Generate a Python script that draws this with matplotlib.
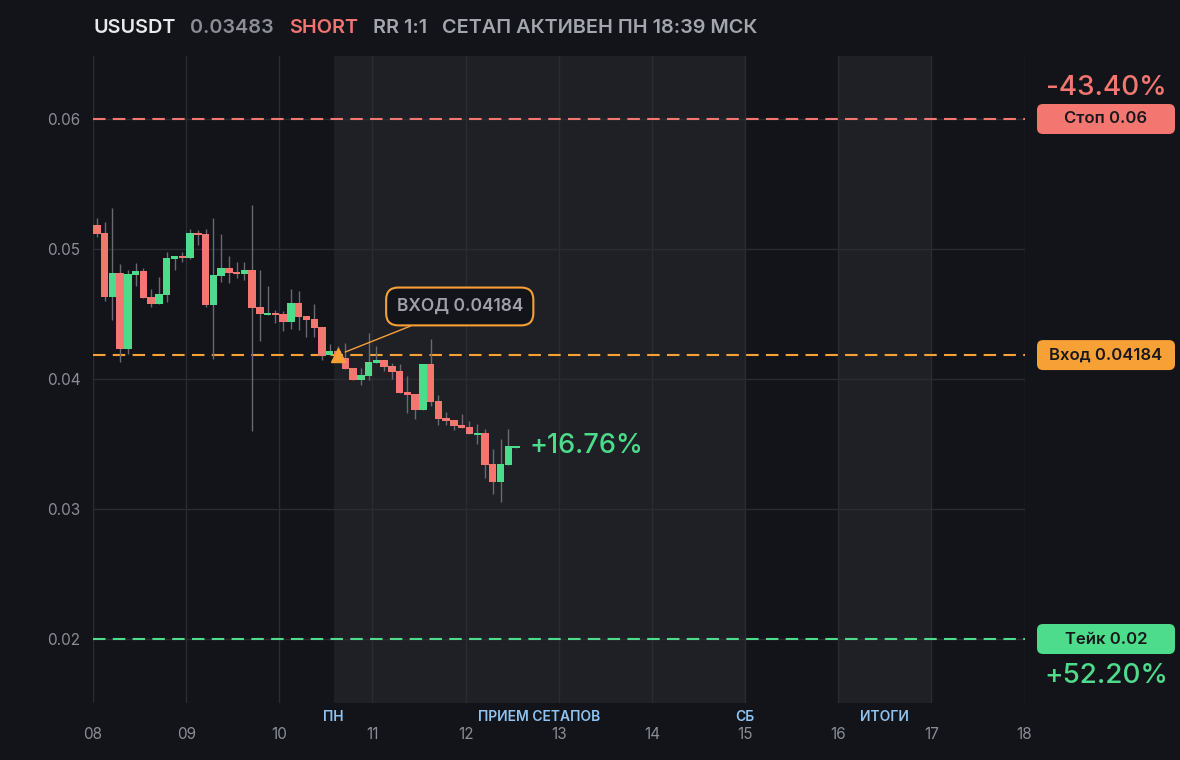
import matplotlib
matplotlib.use('Agg')
import matplotlib.pyplot as plt
import matplotlib.transforms as mtransforms
from matplotlib.patches import FancyBboxPatch
import numpy as np

plt.rcParams['font.family'] = ['Inter', 'DejaVu Sans']

# 2h candles, day 08 .. day 12
opens = [0.05185, 0.05123, 0.04631, 0.04815, 0.04231, 0.04800, 0.04831, 0.04631, 0.04577, 0.04646,
         0.04923, 0.04946, 0.04931, 0.05123, 0.05115, 0.04569, 0.04792, 0.04854, 0.04823, 0.04808,
         0.04838, 0.04554, 0.04492, 0.04508, 0.04500, 0.04438, 0.04585, 0.04485, 0.04462, 0.04400,
         0.04185, 0.04215, 0.04162, 0.04085, 0.03992, 0.04023, 0.04123, 0.04146, 0.04100, 0.04062,
         0.03900, 0.03885, 0.03762, 0.04115, 0.03831, 0.03700, 0.03685, 0.03646, 0.03631, 0.03569,
         0.03585, 0.03346, 0.03208, 0.03338, 0.03469]
highs = [0.05238, 0.05208, 0.05315, 0.04885, 0.04838, 0.04892, 0.04854, 0.04692, 0.04785, 0.04977,
         0.04946, 0.04977, 0.05154, 0.05146, 0.05154, 0.05238, 0.05115, 0.04946, 0.04900, 0.04900,
         0.05338, 0.04838, 0.04715, 0.04531, 0.04523, 0.04692, 0.04677, 0.04485, 0.04577, 0.04400,
         0.04269, 0.04250, 0.04277, 0.04085, 0.04085, 0.04354, 0.04254, 0.04146, 0.04120, 0.04115,
         0.04023, 0.03885, 0.04115, 0.04308, 0.03877, 0.03746, 0.03685, 0.03731, 0.03677, 0.03654,
         0.03615, 0.03462, 0.03538, 0.03615, 0.03485]
lows = [0.05095, 0.04600, 0.04454, 0.04131, 0.04192, 0.04715, 0.04623, 0.04554, 0.04577, 0.04592,
        0.04838, 0.04900, 0.04923, 0.05031, 0.04554, 0.04154, 0.04746, 0.04738, 0.04777, 0.04762,
        0.03600, 0.04292, 0.04492, 0.04431, 0.04369, 0.04385, 0.04377, 0.04323, 0.04323, 0.04146,
        0.04185, 0.04150, 0.04077, 0.03992, 0.03954, 0.03992, 0.04123, 0.04062, 0.04000, 0.03892,
        0.03738, 0.03692, 0.03762, 0.03792, 0.03646, 0.03646, 0.03608, 0.03623, 0.03577, 0.03500,
        0.03238, 0.03115, 0.03054, 0.03338, 0.03469]
closes = [0.05118, 0.04631, 0.04815, 0.04231, 0.04808, 0.04831, 0.04623, 0.04577, 0.04654, 0.04931,
          0.04946, 0.04931, 0.05123, 0.05108, 0.04569, 0.04800, 0.04854, 0.04815, 0.04808, 0.04838,
          0.04546, 0.04500, 0.04508, 0.04492, 0.04438, 0.04585, 0.04477, 0.04454, 0.04392, 0.04177,
          0.04215, 0.04184, 0.04077, 0.03992, 0.04031, 0.04131, 0.04146, 0.04092, 0.04054, 0.03892,
          0.03877, 0.03762, 0.04115, 0.03823, 0.03692, 0.03677, 0.03638, 0.03623, 0.03577, 0.03585,
          0.03338, 0.03208, 0.03346, 0.03485, 0.03483]

entry_idx = 31
entry = 0.04184
stop = 0.06
take = 0.02

day_ticks = [8, 9, 10, 11, 12, 13, 14, 15, 16, 17, 18]
price_ticks = [0.02, 0.03, 0.04, 0.05, 0.06]
spans = [(8 + 31 / 12, 15), (16, 17)]
span_labels = [(8 + 31 / 12, 'ПН'), ((8 + 31 / 12 + 15) / 2, 'ПРИЕМ СЕТАПОВ'), (15, 'СБ'), (16.5, 'ИТОГИ')]

title_parts = [('USUSDT', '#e9e9ec'), ('0.03483', '#8b8e97'), ('SHORT', '#f07470'),
               ('RR 1:1', '#a3a6ae'), ('СЕТАП АКТИВЕН ПН 18:39 МСК', '#a3a6ae')]
stop_pct = '-43.40%'
take_pct = '+52.20%'
now_pct = '+16.76%'

BG = '#131419'
SHADE = '#1f2025'
GRID = '#2a2c32'
RED = '#f47670'
GREEN = '#4cdc8b'
ORANGE = '#f7a035'
TXT = '#8b8e97'

fig = plt.figure(figsize=(11.8, 7.6), dpi=100, facecolor=BG)
ax = fig.add_axes([93 / 1180, 57 / 760, (1024.5 - 93) / 1180, (703 - 56) / 760])
ax.set_facecolor(BG)
ax.set_xlim(8, 18)
ax.set_ylim(0.015077, 0.064846)
for s in ax.spines.values():
    s.set_visible(False)

for a, b in spans:
    ax.axvspan(a, b, color=SHADE, lw=0, zorder=0)

ax.set_xticks(day_ticks)
ax.set_xticklabels(['%02d' % d for d in day_ticks])
ax.set_yticks(price_ticks)
ax.set_yticklabels(['%.2f' % p for p in price_ticks])
ax.tick_params(axis='x', length=0, pad=17, labelsize=11, labelcolor=TXT)
ax.tick_params(axis='y', length=0, pad=9, labelsize=11, labelcolor=TXT)
ax.grid(True, color=GRID, lw=1, zorder=1)
ax.set_axisbelow(True)

tr = mtransforms.blended_transform_factory(ax.transData, ax.transAxes)
for x, lab in span_labels:
    ax.text(x, -0.0216, lab, transform=tr, ha='center', va='center', fontsize=10,
            weight='semibold', color='#8ec3f2')

# candles
o = np.array(opens); h = np.array(highs); l = np.array(lows); c = np.array(closes)
t = 8 + (np.arange(len(o)) + 0.5) / 12
cols = [GREEN if cc >= oo else RED for oo, cc in zip(o, c)]
body_low = np.minimum(o, c)
body_h = np.maximum(np.abs(c - o), 0.00009)
ax.vlines(t, l, h, color='#676a72', lw=1, zorder=3)
ax.bar(t, body_h, bottom=body_low, width=0.96 / 12, color=cols, zorder=4)

# levels
for val, col in [(stop, RED), (entry, ORANGE), (take, GREEN)]:
    ax.axhline(val, color=col, lw=1.5, dashes=(6, 3.5), zorder=2)

ax.plot(t[entry_idx], entry, marker='^', color=ORANGE, ms=10, zorder=6)
ax.annotate('ВХОД %.5f' % entry, xy=(t[entry_idx], entry), xytext=(88, 35),
            textcoords='offset points', ha='center', va='center', fontsize=12.5,
            weight='semibold', color='#9ea1a9', zorder=7,
            bbox=dict(boxstyle='round,pad=0.6,rounding_size=0.7', fc=BG, ec=ORANGE, lw=1.5),
            arrowprops=dict(arrowstyle='-', color=ORANGE, lw=1, shrinkA=0, shrinkB=6))

ax.annotate(now_pct, xy=(t[-1], c[-1]), xytext=(10, 0), textcoords='offset points',
            ha='left', va='center', fontsize=19.5, weight='medium', color=GREEN)

# right side pills
ident = mtransforms.IdentityTransform()


def pill(val, label, col):
    y = ax.transData.transform((8, val))[1]
    p = FancyBboxPatch((1037, y - 15), 138, 30, boxstyle='round,pad=0,rounding_size=6',
                       fc=col, ec='none', transform=ident)
    fig.add_artist(p)
    fig.text(1106, y, label, transform=ident, ha='center', va='center', fontsize=12,
             weight='semibold', color='#17181c')
    return y


ys = pill(stop, 'Стоп %.2f' % stop, RED)
pill(entry, 'Вход %.5f' % entry, ORANGE)
yt = pill(take, 'Тейк %.2f' % take, GREEN)
fig.text(1106, ys + 31, stop_pct, transform=ident, ha='center', va='center', fontsize=20,
         weight='medium', color=RED)
fig.text(1106, yt - 37, take_pct, transform=ident, ha='center', va='center', fontsize=20,
         weight='medium', color=GREEN)

# title
renderer = fig.canvas.get_renderer()
x = 93
for i, (txt, col) in enumerate(title_parts):
    tt = fig.text(x / 1180, 1 - 28 / 760, txt, ha='left', va='center', fontsize=14.3,
                  weight='semibold', color=col)
    x = tt.get_window_extent(renderer).x1 + 15

fig.savefig('out.png', dpi=100, facecolor=BG)
